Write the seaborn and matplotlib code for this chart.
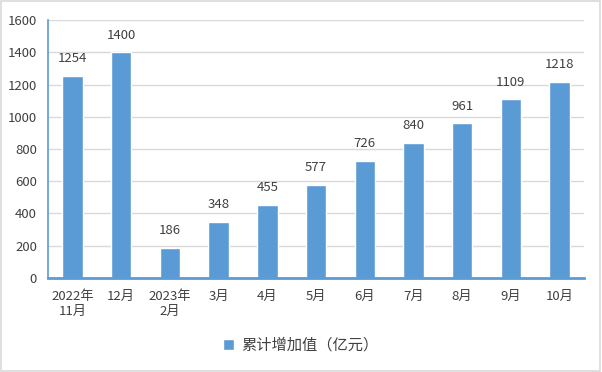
import numpy as np
import pandas as pd
import matplotlib
matplotlib.use("Agg")
import matplotlib.pyplot as plt
import seaborn as sns
from matplotlib.patches import Rectangle

months = ["2022年\n11月", "12月", "2023年\n2月", "3月", "4月", "5月",
          "6月", "7月", "8月", "9月", "10月"]
values = [1254, 1400, 186, 348, 455, 577, 726, 840, 961, 1109, 1218]
series_name = "累计增加值（亿元）"

blue = "#5b9bd5"
text_col = "#404040"

sns.set_theme(style="white")
plt.rcParams["font.family"] = ["Noto Sans CJK SC", "DejaVu Sans"]

df = pd.DataFrame({"month": months, "value": values})

fig = plt.figure(figsize=(6.02, 3.72), dpi=100)
ax = fig.add_axes([0.080, 0.253, 0.890, 0.693])

sns.barplot(data=df, x="month", y="value", color=blue, width=0.42,
            saturation=1, ax=ax, label=series_name)

for i, v in enumerate(values):
    ax.text(i, v + 65, str(v), ha="center", va="bottom", fontsize=9.5,
            color=text_col)

ax.set_ylim(0, 1600)
ax.set_xlim(-0.5, len(months) - 0.5)
ax.set_yticks(np.arange(0, 1601, 200))
ax.yaxis.grid(True, color="#d9d9d9", linewidth=1)
ax.set_axisbelow(True)
ax.set_xlabel("")
ax.set_ylabel("")

for s in ["top", "right"]:
    ax.spines[s].set_visible(False)
ax.spines["left"].set_color(blue)
ax.spines["left"].set_linewidth(1.2)
ax.spines["bottom"].set_color(blue)
ax.spines["bottom"].set_linewidth(2)

ax.tick_params(axis="y", direction="in", length=4, color=blue, width=1.2,
               labelsize=9.5, labelcolor=text_col, pad=8)
ax.tick_params(axis="x", which="major", length=0, labelsize=9.5,
               labelcolor=text_col, pad=9)
ax.set_xticks(np.arange(-0.5, len(months), 1), minor=True)
ax.tick_params(axis="x", which="minor", direction="in", length=5,
               color=blue, width=1.5)

# legend centred on the figure, below the axes
handles, labels = ax.get_legend_handles_labels()
if ax.get_legend() is not None:
    ax.get_legend().remove()
fig.legend(handles, labels, loc="center", bbox_to_anchor=(0.5, 0.072),
           frameon=False, fontsize=11, handlelength=0.7, handleheight=0.7,
           handletextpad=0.5, labelcolor=text_col)

fig.patches.append(Rectangle((0.002, 0.003), 0.995, 0.994,
                             transform=fig.transFigure, fill=False,
                             edgecolor="#d9d9d9", linewidth=1.2))

fig.savefig("out.png", dpi=100)
